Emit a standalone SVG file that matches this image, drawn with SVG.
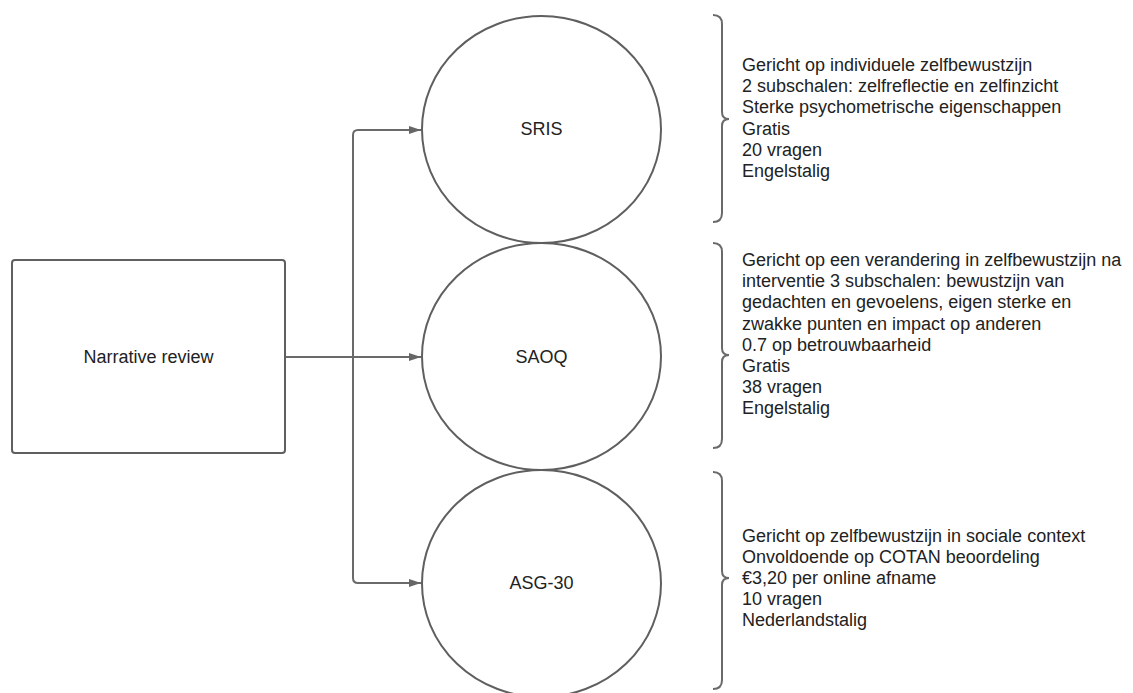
<svg xmlns="http://www.w3.org/2000/svg" width="1133" height="693" viewBox="0 0 1133 693">
<style>
.shape{fill:#fff;stroke:#5f5f5f;stroke-width:2}
.conn{fill:none;stroke:#6a6a6a;stroke-width:2}
.brace{fill:none;stroke:#6a6a6a;stroke-width:2}
text{font-family:"Liberation Sans",Arial,sans-serif;font-size:18px;fill:#222}
.c{text-anchor:middle}
</style>
<defs>
<marker id="arr" viewBox="0 0 12 8" refX="12" refY="4" markerWidth="12" markerHeight="8" markerUnits="userSpaceOnUse" orient="auto">
<path d="M0,0 L12,4 L0,8 z" fill="#666"/>
</marker>
</defs>
<rect width="1133" height="693" fill="#fff"/>
<g id="connectors">
<path class="conn" d="M285 357 H421" marker-end="url(#arr)"/>
<path class="conn" d="M353 357 V135 Q353 130 358 130 H421" marker-end="url(#arr)"/>
<path class="conn" d="M353 357 V578 Q353 583 358 583 H421" marker-end="url(#arr)"/>
</g>
<g id="narrative">
<rect class="shape" x="12" y="260" width="273" height="193" rx="3"/>
<text class="c" x="148.5" y="363">Narrative review</text>
</g>
<g id="sris">
<ellipse class="shape" cx="541.5" cy="129.5" rx="119.5" ry="113.5"/>
<text class="c" x="541.5" y="135">SRIS</text>
</g>
<g id="saoq">
<ellipse class="shape" cx="541.5" cy="356.5" rx="119.5" ry="113.5"/>
<text class="c" x="541.5" y="363">SAOQ</text>
</g>
<g id="asg30">
<ellipse class="shape" cx="541.5" cy="583.5" rx="119.5" ry="113.5"/>
<text class="c" x="541.5" y="589">ASG-30</text>
</g>
<g id="info-sris">
<path class="brace" d="M713 15 Q722 15 722 24 V112 Q722 119 729 119 Q722 119 722 126 V213 Q722 222 713 222"/>
<text x="742" y="71">Gericht op individuele zelfbewustzijn</text>
<text x="742" y="92.2">2 subschalen: zelfreflectie en zelfinzicht</text>
<text x="742" y="113.4">Sterke psychometrische eigenschappen</text>
<text x="742" y="134.6">Gratis</text>
<text x="742" y="155.8">20 vragen</text>
<text x="742" y="177">Engelstalig</text>
</g>
<g id="info-saoq">
<path class="brace" d="M713 243 Q722 243 722 252 V348 Q722 355 729 355 Q722 355 722 362 V439 Q722 448 713 448"/>
<text x="742" y="266">Gericht op een verandering in zelfbewustzijn na</text>
<text x="742" y="287.2">interventie 3 subschalen: bewustzijn van</text>
<text x="742" y="308.4">gedachten en gevoelens, eigen sterke en</text>
<text x="742" y="329.6">zwakke punten en impact op anderen</text>
<text x="742" y="350.8">0.7 op betrouwbaarheid</text>
<text x="742" y="372">Gratis</text>
<text x="742" y="393.2">38 vragen</text>
<text x="742" y="414.4">Engelstalig</text>
</g>
<g id="info-asg30">
<path class="brace" d="M713 472 Q722 472 722 481 V571 Q722 578 729 578 Q722 578 722 585 V680 Q722 689 713 689"/>
<text x="742" y="541.5">Gericht op zelfbewustzijn in sociale context</text>
<text x="742" y="562.5">Onvoldoende op COTAN beoordeling</text>
<text x="742" y="583.5">€3,20 per online afname</text>
<text x="742" y="604.5">10 vragen</text>
<text x="742" y="625.5">Nederlandstalig</text>
</g>
</svg>
